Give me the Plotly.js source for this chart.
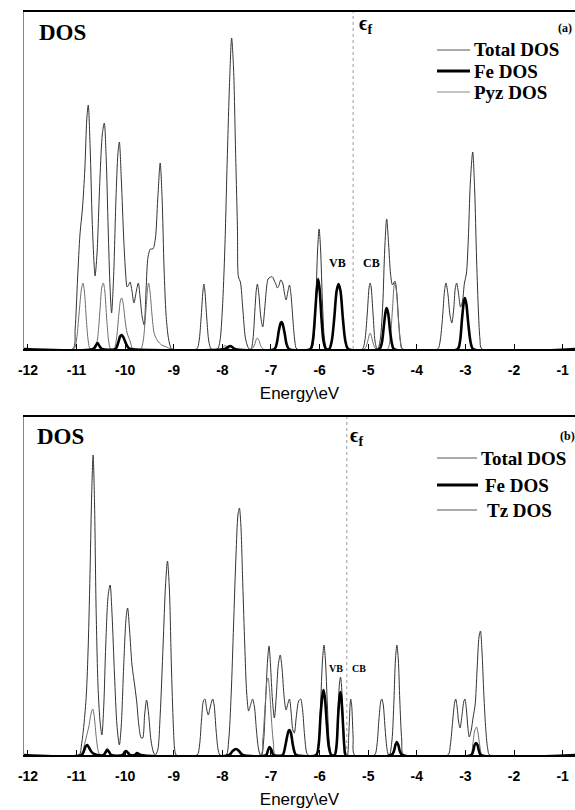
<!DOCTYPE html>
<html>
<head>
<meta charset="utf-8">
<script src="https://cdn.plot.ly/plotly-3.0.1.min.js"></script>
<style>html,body{margin:0;padding:0;background:#fff;}#chart{width:575px;height:810px;}</style>
</head>
<body>
<div id="chart"></div>
<script>
// ---------- Panel (a) data ----------
const aTotalE = [-12.1,-11.08,-11.03,-10.98,-10.93,-10.88,-10.83,-10.79,-10.76,-10.72,-10.68,-10.64,-10.62,-10.58,-10.52,-10.47,-10.43,-10.39,-10.35,-10.31,-10.28,-10.24,-10.19,-10.15,-10.12,-10.08,-10.03,-9.99,-9.96,-9.92,-9.90,-9.86,-9.82,-9.77,-9.73,-9.69,-9.65,-9.61,-9.57,-9.53,-9.48,-9.43,-9.38,-9.33,-9.28,-9.24,-9.20,-9.16,-9.12,-9.08,-9.04,
  -8.53,-8.48,-8.44,-8.40,-8.38,-8.36,-8.32,-8.28,-8.23,
  -8.10,-8.05,-8.00,-7.95,-7.90,-7.85,-7.81,-7.77,-7.73,-7.69,-7.67,-7.63,-7.58,-7.53,-7.49,-7.45,
  -7.41,-7.37,-7.33,-7.30,-7.28,-7.25,-7.21,-7.17,-7.13,-7.09,-7.06,-7.01,-6.97,-6.93,-6.90,-6.87,-6.84,-6.80,-6.76,-6.72,-6.69,-6.65,-6.62,-6.59,-6.55,-6.51,-6.47,
  -6.17,-6.12,-6.08,-6.04,-6.01,-5.98,-5.94,-5.90,-5.85,
  -5.80,-5.75,-5.70,-5.65,-5.61,-5.57,-5.52,-5.47,-5.41,
  -5.12,-5.07,-5.02,-4.98,-4.96,-4.94,-4.90,-4.86,-4.82,
  -4.80,-4.75,-4.70,-4.66,-4.62,-4.58,-4.54,-4.50,-4.45,-4.41,-4.37,-4.33,-4.29,
  -3.57,-3.52,-3.47,-3.43,-3.40,-3.36,-3.32,-3.28,-3.24,-3.21,-3.18,-3.14,-3.10,-3.06,-3.02,-2.98,-2.94,-2.90,-2.85,-2.81,-2.77,-2.73,-2.70,-2.66,-0.7];
const aTotal = [0,0,20,70,115,140,180,230,244,200,130,85,73,95,170,215,226,190,120,60,36,70,150,195,207,170,110,75,62,65,67,58,46,58,66,50,32,24,60,92,100,100,110,150,186,150,80,35,14,4,0,
  0,8,30,58,65,58,30,8,0,
  0,8,40,100,190,270,311,280,200,120,72,67,40,12,4,0,
  0,10,40,60,65,55,32,22,40,62,70,72,72,68,65,61,63,69,66,55,49,58,64,55,30,8,0,
  0,10,45,100,120,100,45,10,0,
  0,8,30,58,65,58,30,8,0,
  0,8,35,62,66,62,35,8,0,
  0,10,45,100,130,105,75,64,68,55,25,6,0,
  0,8,32,58,66,55,35,26,40,60,66,55,42,48,66,75,110,165,197,160,90,35,10,0,0];

const aPyzE = [-12.1,-11.06,-11.00,-10.95,-10.90,-10.87,-10.84,-10.80,-10.76,-10.72,
  -10.62,-10.57,-10.52,-10.48,-10.45,-10.42,-10.38,-10.34,-10.30,
  -10.23,-10.18,-10.13,-10.09,-10.07,-10.04,-10.00,-9.96,-9.90,-9.84,
  -9.68,-9.63,-9.58,-9.54,-9.52,-9.49,-9.45,-9.40,-9.33,-9.25,-9.15,-9.05,
  -8.02,-7.97,-7.92,-7.86,
  -7.40,-7.34,-7.30,-7.28,-7.25,-7.21,-7.16,
  -5.08,-5.02,-4.98,-4.96,-4.94,-4.90,-4.84,
  -4.60,-4.55,-4.50,-4.47,-4.45,-4.42,-4.38,-4.34,-4.30,-0.7];
const aPyz = [0,0,10,35,60,66,58,30,8,0,
  0,10,38,62,66,58,30,8,0,
  0,10,35,50,51,45,28,16,8,0,
  0,8,35,60,66,58,35,15,8,4,2,0,
  0,3,3,0,
  0,4,10,11,9,3,0,
  0,6,14,16,14,6,0,
  0,10,40,62,66,58,30,8,0,0];

const aFeE = [-12.1,-10.66,-10.61,-10.57,-10.53,-10.48,
  -10.20,-10.14,-10.10,-10.07,-10.03,-9.98,-9.93,-9.88,
  -7.95,-7.88,-7.84,-7.80,-7.74,
  -6.93,-6.88,-6.84,-6.80,-6.78,-6.76,-6.72,-6.68,-6.63,
  -6.19,-6.14,-6.10,-6.06,-6.03,-6.00,-5.96,-5.92,-5.87,
  -5.80,-5.75,-5.70,-5.65,-5.61,-5.57,-5.52,-5.47,-5.41,
  -4.77,-4.72,-4.68,-4.64,-4.62,-4.59,-4.55,-4.51,-4.47,
  -3.16,-3.11,-3.07,-3.03,-3.01,-2.98,-2.94,-2.89,-2.84,-0.7];
const aFe = [0,0,3,6,3,0,
  0,7,13,14,11,5,1,0,
  0,2,3,2,0,
  0,6,18,26,27,25,16,5,0,
  0,8,30,58,70,60,30,8,0,
  0,8,30,58,65,58,30,8,0,
  0,6,22,38,41,36,18,5,0,
  0,8,30,48,51,45,25,6,0,0];

// ---------- Panel (b) data ----------
const bTotalE = [-12.1,-10.95,-10.90,-10.85,-10.80,-10.76,-10.72,-10.69,-10.66,-10.63,-10.60,-10.56,-10.52,-10.48,-10.44,-10.40,-10.35,-10.31,-10.27,-10.22,-10.17,-10.12,-10.08,-10.03,-9.98,-9.95,-9.91,-9.86,-9.80,-9.76,-9.72,-9.67,-9.64,-9.60,-9.56,-9.52,-9.47,-9.42,-9.38,-9.33,-9.28,-9.22,-9.17,-9.13,-9.09,-9.05,-9.01,-8.98,-8.95,
  -8.52,-8.47,-8.43,-8.39,-8.36,-8.32,-8.29,-8.25,-8.20,-8.17,-8.13,-8.09,-8.05,
  -7.92,-7.87,-7.82,-7.77,-7.72,-7.68,-7.65,-7.62,-7.58,-7.54,-7.50,-7.46,-7.42,-7.38,-7.34,-7.30,-7.26,-7.22,
  -7.19,-7.15,-7.11,-7.07,-7.04,-7.01,-6.97,-6.93,-6.89,-6.85,-6.81,-6.77,-6.73,-6.69,-6.65,-6.62,-6.59,-6.55,-6.52,-6.48,-6.43,-6.39,-6.35,-6.31,-6.27,-6.24,
  -6.07,-6.02,-5.98,-5.94,-5.91,-5.88,-5.84,-5.80,-5.75,
  -5.69,-5.65,-5.62,-5.59,-5.57,-5.55,-5.52,-5.49,-5.46,
  -5.43,-5.40,-5.37,-5.36,-5.34,-5.31,-5.28,
  -4.87,-4.82,-4.78,-4.74,-4.72,-4.69,-4.65,-4.61,-4.58,
  -4.56,-4.51,-4.47,-4.44,-4.41,-4.38,-4.35,-4.31,-4.27,
  -3.36,-3.31,-3.26,-3.22,-3.20,-3.17,-3.14,-3.11,-3.07,-3.03,-3.01,-2.98,-2.95,-2.92,-2.88,-2.84,-2.80,-2.76,-2.72,-2.69,-2.66,-2.62,-2.58,-2.54,-2.50,-0.7];
const bTotal = [0,0,10,30,60,110,190,260,300,250,150,70,35,20,50,110,160,170,140,80,30,10,30,90,138,147,125,90,68,52,30,17,17,40,55,42,15,3,0,5,40,110,170,194,165,90,30,5,0,
  0,10,35,54,56,45,40,48,56,50,25,6,0,
  0,15,60,130,200,240,247,230,170,110,62,44,50,56,48,25,7,0,
  0,15,55,95,109,90,55,37,60,90,100,85,58,45,52,56,45,25,22,38,54,56,45,20,3,0,
  0,12,50,95,110,95,50,12,0,
  0,12,45,72,78,70,40,10,0,
  0,20,52,56,50,18,0,
  0,10,35,54,56,50,25,5,0,
  0,15,55,95,110,95,55,15,0,
  0,10,35,53,56,48,33,27,40,54,56,46,28,18,25,38,50,85,118,124,105,60,25,6,0,0];

const bTzE = [-12.1,-10.90,-10.85,-10.80,-10.75,-10.70,-10.67,-10.64,-10.60,-10.56,-10.52,
  -10.45,-10.40,-10.37,-10.33,-10.28,
  -7.22,-7.17,-7.12,-7.08,-7.06,-7.03,-6.99,-6.95,-6.90,
  -2.90,-2.85,-2.81,-2.77,-2.74,-2.70,-2.65,-0.7];
const bTz = [0,0,8,18,28,42,46,40,20,5,0,
  0,5,7,4,0,
  0,15,50,75,77,65,35,12,0,
  0,10,24,28,22,8,0,0];

const bFeE = [-12.1,-10.90,-10.85,-10.81,-10.78,-10.74,-10.69,-10.64,-10.58,
  -10.44,-10.40,-10.37,-10.33,-10.29,
  -10.05,-10.01,-9.98,-9.94,-9.90,
  -9.80,-9.76,-9.72,-9.68,
  -7.86,-7.79,-7.72,-7.66,-7.58,
  -7.10,-7.06,-7.03,-6.99,-6.95,
  -6.76,-6.71,-6.67,-6.64,-6.62,-6.59,-6.55,-6.51,-6.48,
  -6.07,-6.02,-5.98,-5.94,-5.92,-5.89,-5.85,-5.81,-5.76,
  -5.69,-5.65,-5.62,-5.59,-5.57,-5.55,-5.52,-5.49,-5.46,
  -4.52,-4.47,-4.44,-4.41,-4.38,-4.35,-4.30,
  -2.88,-2.84,-2.81,-2.78,-2.75,-2.72,-2.68,-0.7];
const bFe = [0,0,4,9,10,7,3,1,0,
  0,3,5,3,0,
  0,3,4,2,0,
  0,2,1,0,
  0,4,6,4,0,
  0,5,8,5,0,
  0,8,18,24,25,22,10,2,0,
  0,10,40,60,65,57,30,8,0,
  0,10,38,58,63,56,32,8,0,
  0,4,10,13,10,4,0,
  0,4,10,12,10,4,0,0];

// ---------- labels ----------
const tickVals = [-12,-11,-10,-9,-8,-7,-6,-5,-4,-3,-2,-1];
const tickText = ["-12","-11","-10","-9","-8","-7","-6","-5","-4","-3","-2","-1"];
const fermiA = -5.31;
const fermiB = -5.44;
const legendA = ["Total DOS","Fe DOS","Pyz DOS"];
const legendB = ["Total DOS","Fe DOS","Tz DOS"];

// ---------- geometry helpers (pixels -> paper) ----------
const L = 24, R = 575, T = 12, B = 755;
const px = v => (v - L) / (R - L);
const py = v => (B - v) / (B - T);

const totalStyle = {color:'#333333', width:1, shape:'spline', smoothing:0.8};
const partStyle  = {color:'#6e6e6e', width:1, shape:'spline', smoothing:0.8};
const feStyle    = {color:'#000000', width:2.6, shape:'spline', smoothing:0.8};

const traces = [
  {x:aTotalE, y:aTotal, name:'Total DOS', mode:'lines', line:totalStyle, xaxis:'x', yaxis:'y'},
  {x:aPyzE, y:aPyz, name:'Pyz DOS', mode:'lines', line:partStyle, xaxis:'x', yaxis:'y'},
  {x:aFeE, y:aFe, name:'Fe DOS', mode:'lines', line:feStyle, xaxis:'x', yaxis:'y'},
  {x:bTotalE, y:bTotal, name:'Total DOS', mode:'lines', line:totalStyle, xaxis:'x2', yaxis:'y2'},
  {x:bTzE, y:bTz, name:'Tz DOS', mode:'lines', line:partStyle, xaxis:'x2', yaxis:'y2'},
  {x:bFeE, y:bFe, name:'Fe DOS', mode:'lines', line:feStyle, xaxis:'x2', yaxis:'y2'}
];

const xRange = [-12.082, -0.745];
const tickFont = {family:'"Liberation Sans", Arial, sans-serif', size:14, color:'#000', weight:'bold'};
const titleFont = {family:'"Liberation Sans", Arial, sans-serif', size:17, color:'#000'};
function xAxis(anchor){
  return {
    anchor: anchor, range: xRange, showgrid:false, zeroline:false,
    showline:true, linecolor:'#000', linewidth:2, mirror:true,
    ticks:'inside', ticklen:5, tickwidth:1, tickcolor:'#000',
    tickvals: tickVals, ticktext: tickText, tickfont: tickFont,
    ticklabelstandoff: 7,
    title:{text:'Energy\\eV', font:titleFont, standoff:10}
  };
}
function yAxis(anchor, dom, top){
  return {
    anchor: anchor, domain: dom, range:[0, top], showgrid:false, zeroline:false,
    showline:true, linecolor:'#888', linewidth:1, showticklabels:false, ticks:''
  };
}

const serifBold = (s) => ({family:'"Liberation Serif", "Times New Roman", serif', size:s, color:'#000', weight:'bold'});

function ann(text, x, y, size, xanchor){
  return {text:text, xref:'paper', yref:'paper', x:px(x), y:py(y), xanchor:xanchor||'left', yanchor:'middle',
          showarrow:false, font:serifBold(size)};
}

const annotations = [
  ann('DOS', 37, 32, 23), ann('DOS', 35, 437, 23),
  ann('ϵ<sub>f</sub>', 357, 25, 20), ann('ϵ<sub>f</sub>', 348, 437, 20),
  ann('(a)', 574, 28, 12, 'right'), ann('(b)', 577, 436, 12, 'right'),
  ann(legendA[0], 472, 50, 19), ann(legendA[1], 472, 71, 19), ann(legendA[2], 472, 92, 19),
  ann(legendB[0], 479, 458, 19), ann(legendB[1], 483, 485, 19), ann(legendB[2], 485, 510, 19),
  ann('VB', 337, 263, 12, 'center'), ann('CB', 371, 263, 12, 'center'),
  ann('VB', 336, 668, 10, 'center'), ann('CB', 359, 668, 10, 'center')
];

function seg(x0, x1, y, color, width){
  return {type:'line', xref:'paper', yref:'paper', x0:px(x0), x1:px(x1), y0:py(y), y1:py(y), line:{color:color, width:width}};
}
const shapes = [
  {type:'line', xref:'x', yref:'y domain', x0:fermiA, x1:fermiA, y0:0, y1:1, line:{color:'#999', width:1, dash:'dot'}},
  {type:'line', xref:'x2', yref:'y2 domain', x0:fermiB, x1:fermiB, y0:0, y1:1, line:{color:'#999', width:1, dash:'dot'}},
  seg(437, 470, 50, '#555', 1), seg(437, 470, 71, '#000', 3), seg(437, 470, 92, '#888', 1),
  seg(437, 477, 458, '#555', 1), seg(437, 478, 485, '#000', 3), seg(437, 477, 510, '#555', 1)
];

const layout = {
  width:575, height:810, showlegend:false,
  paper_bgcolor:'#fff', plot_bgcolor:'#fff',
  margin:{l:L, r:575-R, t:T, b:810-B, pad:0},
  xaxis: xAxis('y'),
  yaxis: yAxis('x', [py(349), 1], 337),
  xaxis2: xAxis('y2'),
  yaxis2: yAxis('x2', [0, py(417)], 338),
  annotations: annotations,
  shapes: shapes
};

Plotly.newPlot('chart', traces, layout, {staticPlot:true, displayModeBar:false});
</script>
</body>
</html>
